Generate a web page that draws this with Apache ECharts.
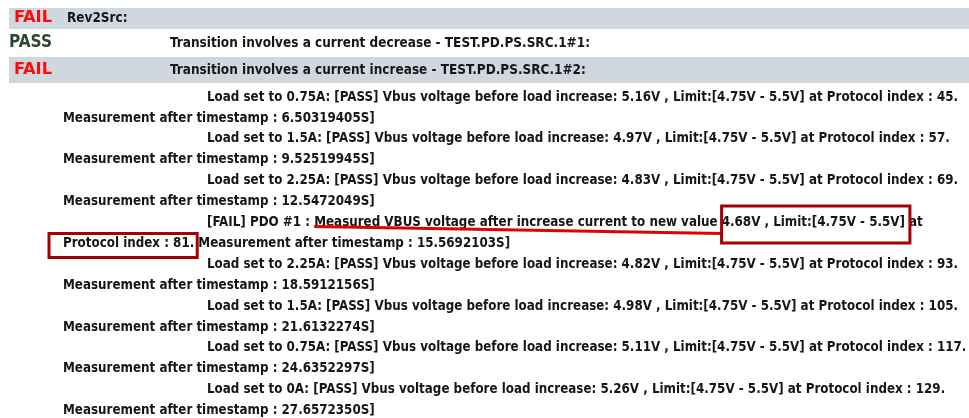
<!DOCTYPE html>
<html><head><meta charset="utf-8">
<script src="https://cdn.jsdelivr.net/npm/echarts@6/dist/echarts.min.js"></script>
<style>html,body{margin:0;padding:0;background:#fff}#c{width:969px;height:418px}</style>
</head><body><div id="c"></div>
<script>
// ---- data ----
const headerStatus = ['FAIL', 'PASS', 'FAIL'];
const headerTitles = ['Rev2Src:', 'Transition involves a current decrease - TEST.PD.PS.SRC.1#1:', 'Transition involves a current increase - TEST.PD.PS.SRC.1#2:'];
const loadsBefore = ['0.75A', '1.5A', '2.25A'];
const voltsBefore = ['5.16V', '4.97V', '4.83V'];
const indexBefore = [45, 57, 69];
const timeBefore = ['6.50319405S', '9.52519945S', '12.5472049S'];
const failPdo = '#1';
const failVolt = '4.68V';
const failIndex = 81;
const failTime = '15.5692103S';
const loadsAfter = ['2.25A', '1.5A', '0.75A', '0A'];
const voltsAfter = ['4.82V', '4.98V', '5.11V', '5.26V'];
const indexAfter = [93, 105, 117, 129];
const timeAfter = ['18.5912156S', '21.6132274S', '24.6352297S', '27.6572350S'];
const limitText = '[4.75V - 5.5V]';

// ---- layout ----
const FONT_FAMILY = '"DejaVu Sans Condensed", "DejaVu Sans", Verdana, sans-serif';
const BODY_SIZE = 14;
const ctx = document.createElement('canvas').getContext('2d');
function measure(t, size) { ctx.font = 'bold ' + size + 'px ' + FONT_FAMILY; return ctx.measureText(t).width; }

const X_IND = 207, X_LEFT = 63, Y0 = 97, LH = 20.9;
function loadLine(l, v, i) { return 'Load set to ' + l + ': [PASS] Vbus voltage before load increase: ' + v + ' , Limit:' + limitText + ' at Protocol index : ' + i + '.'; }
const firstLine = loadLine(loadsBefore[0], voltsBefore[0], indexBefore[0]);
const SX = (958 - X_IND) / measure(firstLine, BODY_SIZE);

const g = [];
function txt(t, x, y, opt) {
  opt = opt || {};
  const size = opt.size || BODY_SIZE;
  g.push({ type: 'text', x: x, y: y, scaleX: opt.sx || SX, z: 10,
    style: { text: t, fontSize: size, fontWeight: 'bold', fontFamily: FONT_FAMILY, fill: opt.fill || '#161616', verticalAlign: 'middle', align: 'left' } });
}
// header bands
g.push({ type: 'rect', shape: { x: 9, y: 8, width: 960, height: 21 }, style: { fill: '#d0d7df' } });
g.push({ type: 'rect', shape: { x: 9, y: 57, width: 960, height: 26 }, style: { fill: '#d0d7df' } });
const HS = 14, HSX = (590 - 170) / measure(headerTitles[1], HS);
const statusColors = { FAIL: '#ff0a0a', PASS: '#2b4a36' };
const failSX = 38 / measure('FAIL', 16), passSX = 43 / measure('PASS', 17);
txt(headerStatus[0], 14, 18, { size: 16, fill: statusColors[headerStatus[0]], sx: failSX });
txt(headerTitles[0], 67, 18, { size: HS, sx: HSX });
txt(headerStatus[1], 9, 43, { size: 17, fill: statusColors[headerStatus[1]], sx: passSX });
txt(headerTitles[1], 170, 43, { size: HS, sx: HSX });
txt(headerStatus[2], 14, 70, { size: 16, fill: statusColors[headerStatus[2]], sx: failSX });
txt(headerTitles[2], 170, 70, { size: HS, sx: HSX });

let row = 0;
for (let k = 0; k < loadsBefore.length; k++) {
  txt(loadLine(loadsBefore[k], voltsBefore[k], indexBefore[k]), X_IND, Y0 + LH * row++);
  txt('Measurement after timestamp : ' + timeBefore[k] + ']', X_LEFT, Y0 + LH * row++);
}
// fail lines
const yF = Y0 + LH * row++;
const p1 = '[FAIL] PDO ' + failPdo + ' : ';
const p2 = 'Measured VBUS voltage after increase current to new value';
const p3 = ' ' + failVolt + ' , Limit:' + limitText;
txt(p1 + p2 + p3 + ' at', X_IND, yF);
const yF2 = Y0 + LH * row++;
const q1 = 'Protocol index : ' + failIndex + '.';
txt(q1 + ' Measurement after timestamp : ' + failTime + ']', X_LEFT, yF2);
for (let k = 0; k < loadsAfter.length; k++) {
  txt(loadLine(loadsAfter[k], voltsAfter[k], indexAfter[k]), X_IND, Y0 + LH * row++);
  txt('Measurement after timestamp : ' + timeAfter[k] + ']', X_LEFT, Y0 + LH * row++);
}
// annotations
const uStart = X_IND + SX * measure(p1, BODY_SIZE);
const uEnd = X_IND + SX * measure(p1 + p2, BODY_SIZE) + 4;
g.push({ type: 'line', z: 20, shape: { x1: uStart, y1: yF + 4, x2: uEnd, y2: yF + 11 }, style: { stroke: '#e00000', lineWidth: 3 } });
const bx1 = uEnd;
const bx2 = X_IND + SX * measure(p1 + p2 + p3, BODY_SIZE) + 5;
g.push({ type: 'rect', z: 20, shape: { x: bx1, y: 206, width: bx2 - bx1, height: 37 }, style: { fill: 'none', stroke: '#a50000', lineWidth: 3 } });
g.push({ type: 'rect', z: 20, shape: { x: 49, y: 233.5, width: X_LEFT + SX * measure(q1, BODY_SIZE) + 3 - 49, height: 24 }, style: { fill: 'none', stroke: '#a50000', lineWidth: 3 } });

const chart = echarts.init(document.getElementById('c'), null, { renderer: 'canvas' });
chart.setOption({ backgroundColor: '#ffffff', animation: false, graphic: { elements: g } });
</script></body></html>
